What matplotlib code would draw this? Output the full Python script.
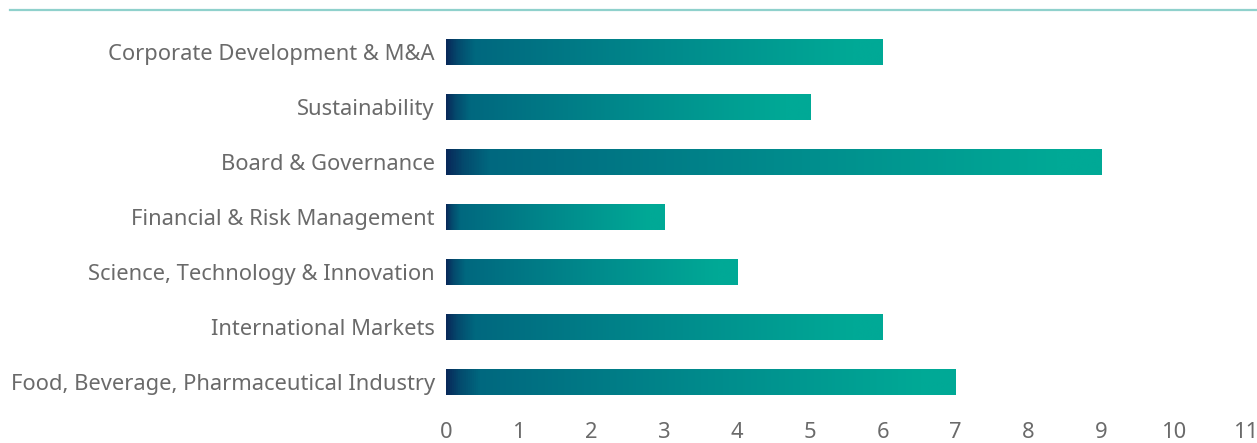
import matplotlib
matplotlib.use("Agg")
import matplotlib.pyplot as plt
import numpy as np
from matplotlib.colors import LinearSegmentedColormap
from matplotlib.lines import Line2D

categories = [
    "Corporate Development & M&A",
    "Sustainability",
    "Board & Governance",
    "Financial & Risk Management",
    "Science, Technology & Innovation",
    "International Markets",
    "Food, Beverage, Pharmaceutical Industry",
]
values = [6, 5, 9, 3, 4, 6, 7]
xticks = list(range(0, 12))

plt.rcParams['font.family'] = ['Noto Sans', 'DejaVu Sans']

W, H = 1257, 443
fig = plt.figure(figsize=(W / 100, H / 100), dpi=100)
left = 446 / W
right = 1247 / W
top_px = 24.5
bot_px = 409.5
ax = fig.add_axes([left, 1 - bot_px / H, right - left, (bot_px - top_px) / H])

cmap = LinearSegmentedColormap.from_list(
    "g",
    [(0.0, "#08295a"), (0.025, "#044a6d"), (0.065, "#00687f"), (0.5, "#008a8c"),
     (0.93, "#00a996"), (1.0, "#00a996")],
)
grad = np.linspace(0, 1, 512).reshape(1, -1)
n = len(categories)
bh = 0.47
for i, (c, v) in enumerate(zip(categories, values)):
    y = n - 1 - i
    ax.imshow(grad, cmap=cmap, aspect="auto", extent=[0, v, y - bh / 2, y + bh / 2],
              interpolation="bilinear")

ax.set_xlim(0, 11)
ax.set_ylim(-0.5, n - 0.5)
ax.set_xticks(xticks)
ax.set_xticklabels([str(t) for t in xticks])
ax.set_yticks(range(n))
ax.set_yticklabels(categories[::-1])
for s in ax.spines.values():
    s.set_visible(False)
ax.tick_params(axis="both", length=0, colors="#6a6a6a", labelsize=15.8)
ax.tick_params(axis="y", pad=8)
ax.tick_params(axis="x", pad=9)
ax.set_aspect("auto")

fig.add_artist(Line2D([10 / W, 1.0], [1 - 10 / H, 1 - 10 / H], transform=fig.transFigure,
                      color="#8fd1cc", lw=1.6))

fig.savefig("out.png", dpi=100)
